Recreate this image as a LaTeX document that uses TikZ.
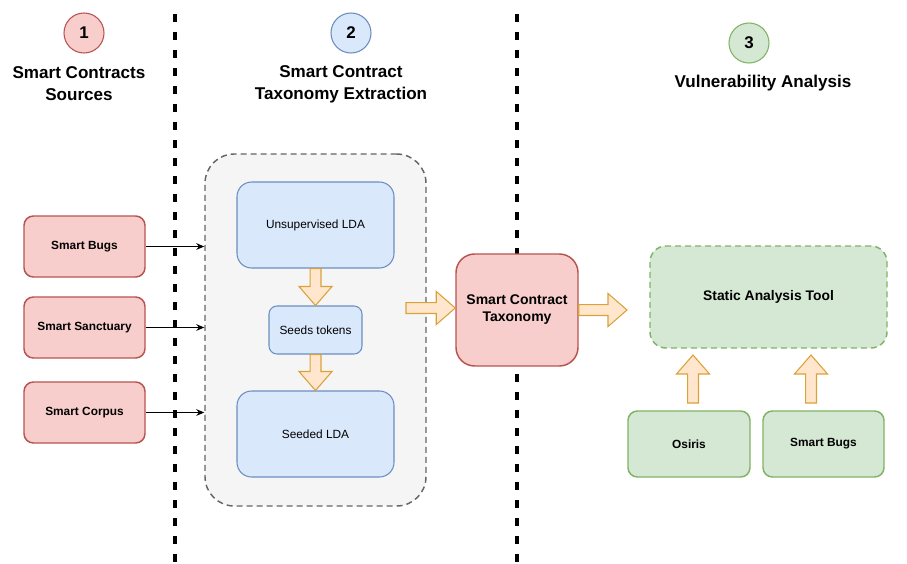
\documentclass[tikz,border=0pt]{standalone}
\usepackage{fontspec}
\setmainfont{Liberation Sans}
\usetikzlibrary{calc,arrows.meta}
\definecolor{redf}{HTML}{F8CECC}
\definecolor{redd}{HTML}{B85450}
\definecolor{bluef}{HTML}{DAE8FC}
\definecolor{blued}{HTML}{6C8EBF}
\definecolor{greenf}{HTML}{D5E8D4}
\definecolor{greend}{HTML}{82B366}
\definecolor{grayf}{HTML}{F5F5F5}
\definecolor{grayd}{HTML}{666666}
\definecolor{orf}{HTML}{FFE6CC}
\definecolor{ord}{HTML}{D9A23A}
\tikzset{
 sz/.style 2 args={minimum width=#1*0.75pt, minimum height=#2*0.75pt, inner sep=0pt},
 box/.style={rectangle, rounded corners=7pt, line width=1.1pt, font=\fontsize{8.9}{10.5}\selectfont\bfseries, align=center},
 redbox/.style={box, fill=redf, draw=redd},
 greenbox/.style={box, fill=greenf, draw=greend},
 bluebox/.style={box, fill=bluef, draw=blued, line width=0.8pt, font=\fontsize{8.9}{10.5}\selectfont},
 container/.style={rectangle, rounded corners=22pt, fill=grayf, draw=grayd, line width=1.1pt, dash pattern=on 4.5pt off 3pt},
 num/.style={circle, minimum size=30pt, inner sep=0pt, line width=0.8pt, font=\fontsize{12.7}{15}\selectfont\bfseries},
 titletxt/.style={font=\fontsize{12.8}{16.5}\selectfont\bfseries, align=center},
 sepline/.style={line width=2.5pt, dash pattern=on 6pt off 7.5pt},
 fatarr/.style={fill=orf, draw=ord, line width=0.8pt, line join=miter},
 feed/.style={-{Stealth[length=6pt,width=5pt]}, line width=0.7pt}
}
\newcommand\fatarrow[2]{%
 \coordinate (fac) at ($(#2)!14.25pt!(#1)$);
 \draw[fatarr] ($(#1)!4.1pt!90:(#2)$) -- ($(fac)!4.1pt!90:(#2)$) -- ($(fac)!12.4pt!90:(#2)$) -- (#2)
   -- ($(fac)!12.4pt!-90:(#2)$) -- ($(fac)!4.1pt!-90:(#2)$) -- ($(#1)!4.1pt!-90:(#2)$) -- cycle;}
\begin{document}
\begin{tikzpicture}[x=0.75pt,y=-0.75pt]
\path[use as bounding box, fill=white] (0,0) rectangle (907,564);
\draw[sepline] (175,14) -- (175,564);
\draw[sepline] (517,14) -- (517,564);

\node[num, fill=redf, draw=redd] (n1) at (84,33) {1};
\node[num, fill=bluef, draw=blued] (n2) at (351,33) {2};
\node[num, fill=greenf, draw=greend] (n3) at (749,43) {3};
\node[titletxt] (t1) at (79,84) {Smart Contracts\\Sources};
\node[titletxt] (t2) at (341,84) {Smart Contract\\Taxonomy Extraction};
\node[titletxt] (t3) at (763,83) {Vulnerability Analysis};

\node[redbox, sz={121}{61}] (sb) at (84.5,246.5) {Smart Bugs};
\node[redbox, sz={121}{61}] (ss) at (84.5,327.5) {Smart Sanctuary};
\node[redbox, sz={121}{61}] (sc) at (84.5,412.5) {Smart Corpus};

\node[container, sz={221}{352}] (grp) at (315.5,330) {};
\node[bluebox, sz={157}{86}, rounded corners=11pt] (unsup) at (315.5,225) {Unsupervised LDA};
\node[bluebox, sz={93}{48}, rounded corners=6pt] (seeds) at (315.5,330) {Seeds tokens};
\node[bluebox, sz={157}{86}, rounded corners=11pt] (seeded) at (315.5,434) {Seeded LDA};

\draw[feed] (sb.east) -- (sb.east -| grp.west);
\draw[feed] (ss.east) -- (ss.east -| grp.west);
\draw[feed] (sc.east) -- (sc.east -| grp.west);

\node[redbox, sz={122}{112}, rounded corners=14pt, font=\fontsize{10.5}{12.75}\selectfont\bfseries] (tax) at (517,310) {Smart Contract\\Taxonomy};

\node[greenbox, sz={237}{102}, rounded corners=12pt, dash pattern=on 4.5pt off 3pt, font=\fontsize{10.4}{12.5}\selectfont\bfseries] (sat) at (768.5,297) {Static Analysis Tool};
\node[greenbox, sz={122}{66}] (osiris) at (689,444) {Osiris};
\node[greenbox, sz={121}{66}] (sb2) at (823.5,444) {Smart Bugs};

\coordinate (ain) at (406,308);
\coordinate (aout) at (627,310);
\coordinate (u1s) at (693,403);
\coordinate (u1e) at (693,355);
\coordinate (u2s) at (811,403);
\coordinate (u2e) at (811,355);

\fatarrow{unsup.south}{seeds.north}
\fatarrow{seeds.south}{seeded.north}
\fatarrow{ain}{ain -| tax.west}
\fatarrow{tax.east}{aout}
\fatarrow{u1s}{u1e}
\fatarrow{u2s}{u2e}
\end{tikzpicture}
\end{document}
